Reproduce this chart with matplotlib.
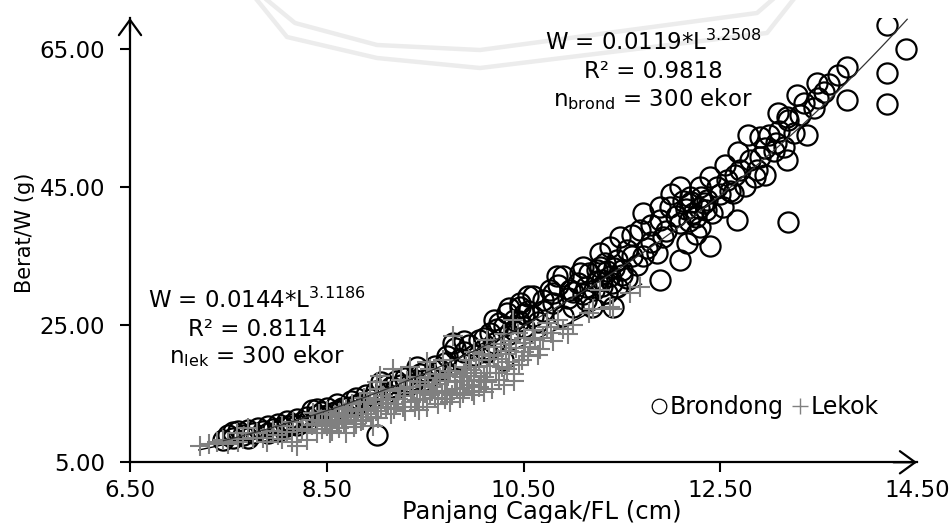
import numpy as np
import matplotlib.pyplot as plt
from matplotlib.lines import Line2D

plt.rcParams['font.family'] = ['DejaVu Sans']
plt.rcParams['mathtext.fontset'] = 'dejavusans'

# (FL cm, W g)
brondong_pts = [
    (7.45, 8.3), (7.5, 9.0), (7.55, 8.6), (7.55, 9.4), (7.6, 9.5), (7.65, 8.9),
    (7.7, 9.7), (7.7, 8.6), (7.75, 9.2), (7.8, 10.0), (7.85, 9.6), (7.9, 10.3),
    (7.9, 9.2), (7.95, 9.9), (8.0, 10.6), (8.0, 9.6), (8.05, 10.1), (8.1, 11.0),
    (8.1, 10.2), (8.15, 10.6), (8.2, 11.3), (8.2, 10.4), (8.25, 10.9), (8.3, 11.6),
    (8.3, 10.8), (8.35, 12.6), (8.4, 11.9), (8.4, 12.8), (8.45, 12.3), (8.5, 12.9),
    (8.5, 11.8), (8.55, 12.1), (8.6, 13.4), (8.6, 12.4), (8.65, 12.9), (8.7, 13.0),
    (8.75, 13.9), (8.8, 14.3), (8.8, 13.3), (8.85, 13.6), (8.9, 14.8), (8.95, 14.2),
    (9.0, 15.3), (9.01, 9.0), (9.05, 16.6), (9.1, 15.0), (9.1, 16.2), (9.15, 16.0),
    (9.2, 16.8), (9.2, 15.6), (9.25, 16.2), (9.3, 17.2), (9.35, 16.4), (9.4, 17.0),
    (9.42, 18.9), (9.45, 17.8), (9.5, 18.2), (9.5, 17.0), (9.55, 17.4), (9.6, 19.0),
    (9.65, 18.4), (9.7, 19.4), (9.72, 20.4), (9.78, 22.4), (9.8, 21.6), (9.85, 20.0),
    (9.9, 21.0), (9.9, 22.6), (9.95, 22.0), (10.0, 20.6), (10.05, 22.8), (10.1, 21.5),
    (10.1, 23.0), (10.13, 21.0), (10.16, 23.8), (10.2, 22.4), (10.2, 25.6),
    (10.23, 24.3), (10.25, 25.2), (10.29, 19.9), (10.3, 24.8), (10.33, 26.7),
    (10.35, 23.6), (10.35, 27.4), (10.4, 25.6), (10.4, 24.2), (10.45, 25.5),
    (10.46, 28.2), (10.46, 27.6), (10.5, 24.6), (10.5, 26.5), (10.55, 29.1),
    (10.55, 27.0), (10.6, 26.2), (10.6, 29.1), (10.65, 25.4), (10.7, 27.0),
    (10.7, 28.6), (10.77, 30.1), (10.8, 28.2), (10.8, 29.6), (10.84, 32.0),
    (10.85, 30.8), (10.9, 26.2), (10.9, 32.0), (10.95, 28.8), (10.97, 30.1),
    (11.0, 27.6), (11.0, 29.8), (11.05, 31.0), (11.07, 32.5), (11.1, 29.4),
    (11.1, 33.4), (11.14, 30.5), (11.14, 28.6), (11.17, 32.5), (11.2, 27.6),
    (11.22, 30.0), (11.25, 31.4), (11.25, 33.0), (11.28, 33.4), (11.28, 35.4),
    (11.3, 30.6), (11.3, 31.5), (11.33, 34.0), (11.35, 29.6), (11.35, 32.8),
    (11.38, 36.3), (11.38, 32.0), (11.4, 31.0), (11.41, 27.6), (11.42, 33.2),
    (11.45, 34.4), (11.45, 30.4), (11.48, 37.8), (11.5, 33.0), (11.5, 32.2),
    (11.55, 31.8), (11.55, 35.8), (11.6, 35.0), (11.6, 38.0), (11.65, 33.6),
    (11.68, 38.8), (11.71, 41.2), (11.71, 34.9), (11.75, 36.2), (11.8, 39.5),
    (11.8, 37.0), (11.86, 35.4), (11.89, 42.1), (11.89, 31.5), (11.89, 40.2),
    (11.92, 37.8), (11.95, 38.6), (11.99, 42.1), (12.0, 44.0), (12.05, 40.8),
    (12.09, 45.0), (12.09, 39.8), (12.09, 34.4), (12.12, 43.0), (12.15, 41.8),
    (12.16, 36.9), (12.18, 40.0), (12.19, 43.6), (12.2, 42.8), (12.22, 41.2),
    (12.25, 38.2), (12.25, 40.6), (12.28, 42.0), (12.29, 45.0), (12.29, 39.2),
    (12.3, 43.6), (12.33, 42.6), (12.35, 41.6), (12.36, 43.1), (12.4, 36.4),
    (12.4, 46.4), (12.42, 41.2), (12.47, 45.0), (12.5, 44.0), (12.53, 42.1),
    (12.55, 48.2), (12.57, 46.0), (12.6, 44.4), (12.63, 44.1), (12.65, 46.8),
    (12.67, 40.2), (12.68, 50.1), (12.7, 47.5), (12.75, 45.2), (12.78, 52.5),
    (12.8, 48.9), (12.85, 46.4), (12.87, 47.5), (12.9, 52.2), (12.9, 49.3),
    (12.95, 46.8), (12.95, 50.6), (13.0, 52.5), (13.05, 50.2), (13.07, 51.4),
    (13.09, 55.7), (13.1, 53.2), (13.15, 50.8), (13.18, 48.9), (13.18, 55.1),
    (13.19, 39.9), (13.19, 54.7), (13.25, 52.8), (13.28, 58.3), (13.31, 55.4),
    (13.35, 57.2), (13.38, 52.5), (13.45, 56.5), (13.48, 60.1), (13.49, 57.9),
    (13.55, 58.8), (13.6, 60.0), (13.7, 61.2), (13.79, 62.4), (13.79, 57.6),
    (14.19, 68.5), (14.39, 65.1), (14.19, 61.5), (14.19, 57.0),
]

lekok_pts = [
    (7.21, 7.3), (7.3, 7.6), (7.38, 7.9), (7.45, 8.2), (7.5, 7.7), (7.59, 9.3),
    (7.6, 8.0), (7.65, 8.4), (7.7, 10.0), (7.75, 8.6), (7.79, 9.3), (7.85, 8.5),
    (7.89, 7.9), (7.95, 9.6), (8.0, 8.9), (8.05, 10.2), (8.05, 8.4), (8.1, 9.4),
    (8.15, 8.0), (8.16, 10.8), (8.2, 7.3), (8.2, 9.9), (8.25, 9.8), (8.3, 8.3),
    (8.3, 9.6), (8.35, 10.4), (8.35, 11.2), (8.36, 12.2), (8.4, 9.3), (8.4, 10.6),
    (8.42, 12.0), (8.45, 11.0), (8.45, 9.8), (8.48, 10.8), (8.5, 10.2), (8.5, 12.4),
    (8.53, 11.2), (8.53, 9.3), (8.55, 10.9), (8.55, 9.6), (8.58, 11.8), (8.6, 10.5),
    (8.62, 12.2), (8.62, 10.0), (8.65, 11.6), (8.66, 13.0), (8.68, 10.8), (8.7, 9.3),
    (8.7, 11.2), (8.7, 12.8), (8.72, 11.9), (8.75, 12.4), (8.76, 13.4), (8.78, 10.1),
    (8.8, 10.6), (8.8, 11.6), (8.82, 12.6), (8.84, 13.7), (8.85, 11.0), (8.87, 11.2),
    (8.88, 14.4), (8.9, 12.0), (8.91, 13.7), (8.92, 12.8), (8.94, 15.1), (8.95, 11.6),
    (8.97, 10.2), (8.98, 13.4), (9.0, 12.4), (9.0, 14.0), (9.01, 16.6), (9.02, 11.4),
    (9.04, 17.5), (9.05, 13.0), (9.05, 15.6), (9.07, 14.6), (9.1, 14.2), (9.1, 12.9),
    (9.12, 13.6), (9.14, 15.4), (9.15, 12.0), (9.17, 18.5), (9.18, 12.8), (9.2, 13.4),
    (9.22, 14.2), (9.24, 15.6), (9.25, 17.0), (9.27, 13.0), (9.28, 15.8), (9.3, 14.6),
    (9.3, 12.4), (9.32, 16.8), (9.35, 18.9), (9.35, 16.0), (9.36, 13.8), (9.38, 15.0),
    (9.4, 13.1), (9.42, 14.1), (9.42, 17.4), (9.44, 12.6), (9.45, 16.6), (9.45, 15.4),
    (9.48, 14.2), (9.5, 15.0), (9.5, 16.2), (9.52, 19.5), (9.52, 13.1), (9.53, 17.2),
    (9.55, 14.8), (9.55, 18.6), (9.57, 15.4), (9.58, 16.0), (9.6, 14.4), (9.6, 17.8),
    (9.62, 16.4), (9.63, 13.4), (9.65, 17.2), (9.67, 15.0), (9.68, 19.9), (9.7, 14.2),
    (9.7, 16.8), (9.72, 15.4), (9.73, 17.6), (9.75, 13.7), (9.75, 18.2), (9.77, 14.8),
    (9.78, 23.3), (9.8, 16.6), (9.8, 17.8), (9.82, 15.6), (9.85, 14.4), (9.85, 16.8),
    (9.87, 17.4), (9.88, 15.1), (9.9, 18.0), (9.9, 15.8), (9.92, 18.9), (9.93, 16.8),
    (9.95, 16.2), (9.95, 19.8), (9.97, 18.4), (9.98, 15.4), (10.0, 21.0), (10.0, 14.8),
    (10.0, 17.6), (10.02, 18.8), (10.05, 16.0), (10.05, 19.9), (10.07, 17.0),
    (10.08, 20.8), (10.1, 17.4), (10.1, 15.2), (10.12, 16.6), (10.13, 18.0),
    (10.13, 22.8), (10.15, 20.6), (10.16, 19.0), (10.18, 15.6), (10.2, 20.4),
    (10.2, 21.8), (10.22, 18.0), (10.24, 20.0), (10.25, 17.0), (10.27, 22.2),
    (10.28, 18.8), (10.3, 23.6), (10.3, 16.2), (10.32, 20.8), (10.33, 18.5),
    (10.35, 21.2), (10.35, 19.6), (10.37, 22.6), (10.39, 25.7), (10.4, 16.8),
    (10.4, 17.8), (10.42, 21.6), (10.44, 23.8), (10.45, 19.2), (10.48, 19.8),
    (10.5, 23.0), (10.5, 21.0), (10.52, 22.4), (10.55, 20.5), (10.57, 21.8),
    (10.6, 24.2), (10.62, 22.8), (10.65, 20.6), (10.67, 21.4), (10.7, 23.0),
    (10.74, 24.7), (10.74, 25.3), (10.78, 23.8), (10.8, 22.6), (10.85, 25.6),
    (10.9, 24.4), (10.95, 23.6), (11.0, 25.0), (11.17, 26.7), (11.21, 27.2),
    (11.28, 30.1), (11.38, 27.6), (11.41, 27.2), (11.58, 29.6), (11.68, 30.5),
]

# trendline coefficients shown on the chart
brond_a, brond_b, brond_r2 = 0.0119, 3.2508, 0.9818
lek_a, lek_b, lek_r2 = 0.0144, 3.1186, 0.8114
brond_range = (7.45, 14.4)
lek_range = (7.2, 11.7)

xticks = [6.5, 8.5, 10.5, 12.5, 14.5]
yticks = [5, 25, 45, 65]

br = np.array(brondong_pts)
lk = np.array(lekok_pts)

fig = plt.figure(figsize=(9.51, 5.23), dpi=100)
ax = fig.add_axes([0.1367, 0.1161, 0.8276, 0.8495])
ax.set_facecolor('none')

# faint watermark behind the plot
wm1x = np.array([257, 287, 377, 480, 767, 793]) / 951
wm1y = 1 - np.array([0, 37, 58, 68, 33, 0]) / 523
wm2x = np.array([267, 295, 377, 480, 757, 772]) / 951
wm2y = 1 - np.array([0, 23, 45, 50, 13, 0]) / 523
for xs, ys in [(wm1x, wm1y), (wm2x, wm2y)]:
    ax.plot(xs, ys, transform=fig.transFigure, color='#ececec', lw=3.2,
            clip_on=False, zorder=0)

ax.plot(br[:, 0], br[:, 1], ls='none', marker='o', ms=14.5, mfc='none',
        mec='black', mew=1.6, zorder=2)

L = np.linspace(*lek_range, 100)
ax.plot(L, lek_a * L ** lek_b, color='black', lw=1.0, zorder=2.5)

ax.plot(lk[:, 0], lk[:, 1], ls='none', marker='+', ms=14.5, mec='#808080',
        mew=1.5, zorder=3)

L = np.linspace(*brond_range, 100)
ax.plot(L, brond_a * L ** brond_b, color='#333333', lw=0.9, zorder=4)

ax.set_xlim(6.5, 14.5)
ax.set_ylim(5, 69.55)
ax.set_xticks(xticks)
ax.set_yticks(yticks)
ax.set_xticklabels([f'{v:.2f}' for v in xticks])
ax.set_yticklabels([f'{v:.2f}' for v in yticks])
ax.xaxis.get_major_ticks()[-1].tick1line.set_visible(False)

for s in ['top', 'right']:
    ax.spines[s].set_visible(False)
for s in ['left', 'bottom']:
    ax.spines[s].set_linewidth(1.6)
ax.tick_params(direction='out', length=7, width=1.5, labelsize=16.5,
               colors='black')
ax.tick_params(axis='x', pad=5)
ax.tick_params(axis='y', pad=11)

arrow = dict(arrowstyle='->,head_length=0.55,head_width=0.4', lw=1.6,
             color='black', mutation_scale=20, shrinkA=0, shrinkB=0)
ax.annotate('', xy=(1, 0), xytext=(0.97, 0), xycoords='axes fraction',
            arrowprops=arrow, annotation_clip=False)
ax.annotate('', xy=(0, 1), xytext=(0, 0.97), xycoords='axes fraction',
            arrowprops=arrow, annotation_clip=False)

fig.text(0.570, 0.021, 'Panjang Cagak/FL (cm)', fontsize=17.5,
         ha='center', va='center')
fig.text(25 / 951, 1 - 233 / 523, 'Berat/W (g)', fontsize=15,
         rotation=90, ha='center', va='center')

fs = 16.5
ax.text(0.6646, 0.928, rf'W = {brond_a}*L$^{{\mathregular{{{brond_b}}}}}$',
        transform=ax.transAxes, ha='center', va='baseline', fontsize=fs)
ax.text(0.6646, 0.865, f'R² = {brond_r2}', transform=ax.transAxes,
        ha='center', va='baseline', fontsize=fs)
ax.text(0.6646, 0.801, r'n$_{\mathregular{brond}}$ = 300 ekor',
        transform=ax.transAxes, ha='center', va='baseline', fontsize=fs)

ax.text(0.1614, 0.3476, rf'W = {lek_a}*L$^{{\mathregular{{{lek_b}}}}}$',
        transform=ax.transAxes, ha='center', va='baseline', fontsize=fs)
ax.text(0.1614, 0.2846, f'R² = {lek_r2}', transform=ax.transAxes,
        ha='center', va='baseline', fontsize=fs)
ax.text(0.1614, 0.2239, r'n$_{\mathregular{lek}}$ = 300 ekor',
        transform=ax.transAxes, ha='center', va='baseline', fontsize=fs)

handles = [
    Line2D([], [], ls='none', marker='o', ms=10.5, mfc='none', mec='black', mew=0.9),
    Line2D([], [], ls='none', marker='+', ms=12, mec='#808080', mew=1.0),
]
ax.legend(handles, ['Brondong', 'Lekok'], ncol=2, loc='center',
          bbox_to_anchor=(0.807, 0.1245), frameon=False, fontsize=17,
          handlelength=0.6, handletextpad=0.15, columnspacing=0.4,
          borderpad=0)

fig.savefig('out.png', dpi=100)
